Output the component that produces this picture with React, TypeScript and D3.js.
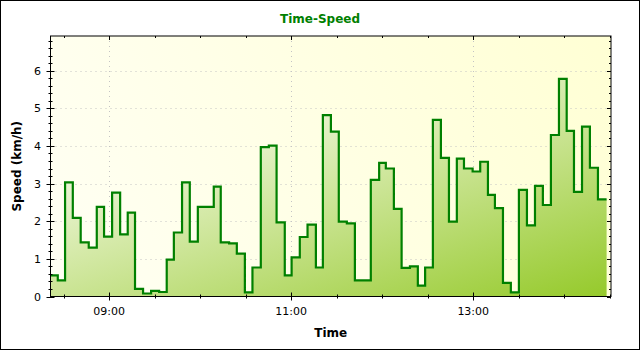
import React from "react";
import * as d3 from "d3";

// Step start times (minutes since midnight) and speeds (km/h)
const times: number[] = [
  501.4, 506.2, 511.0, 516.1, 521.3, 526.6, 531.9, 536.7, 542.0, 547.3,
  552.3, 557.1, 562.4, 567.7, 573.0, 578.0, 582.7, 588.1, 593.2, 598.5,
  609.0, 613.6, 619.1, 624.2, 629.5, 634.5, 640.0, 645.3, 650.4, 655.8,
  660.3, 665.7, 670.8, 676.3, 680.9, 686.2, 691.4, 696.7, 702.0, 712.5,
  718.0, 722.4, 727.7, 732.8, 738.3, 743.5, 748.3, 753.4, 758.7, 764.0,
  769.2, 773.9, 779.6, 784.6, 789.7, 794.3, 799.6, 804.8, 810.1, 815.4,
  820.7, 825.9, 831.2, 836.5, 841.6, 846.4, 851.7, 856.9, 862.2,
];
const speeds: number[] = [
  0.56, 0.43, 3.03, 2.09, 1.44, 1.30, 2.38, 1.59, 2.76, 1.65,
  2.23, 0.20, 0.08, 0.15, 0.12, 0.98, 1.70, 3.03, 1.46, 2.38,
  2.92, 1.44, 1.41, 1.14, 0.11, 0.77, 3.97, 4.01, 1.97, 0.56,
  1.04, 1.58, 1.91, 0.77, 4.82, 4.38, 1.99, 1.94, 0.43, 3.10,
  3.55, 3.40, 2.33, 0.76, 0.80, 0.29, 0.77, 4.69, 3.68, 1.99,
  3.66, 3.40, 3.32, 3.58, 2.70, 2.35, 0.36, 0.11, 2.83, 1.89,
  2.94, 2.43, 4.29, 5.78, 4.40, 2.78, 4.51, 3.42, 2.58,
];
const endTime = 867.9;

const xTickLabels: string[] = ["09:00", "11:00", "13:00"];
const yTickLabels: string[] = ["0", "1", "2", "3", "4", "5", "6"];
const xDomainMinutes: number[] = [501.4, 870.8];
const yDomain: number[] = [0, 6.92];

const title = "Time-Speed";
const xTitle = "Time";
const yTitle = "Speed (km/h)";

const W = 640;
const H = 350;
const L = 50.5;
const R = 611;
const T = 36;
const B = 296.5;

const toDate = (m: number) => new Date(2000, 0, 1, 0, 0, 0, Math.round(m * 60000));
const parseHM = (s: string) => {
  const [h, m] = s.split(":").map(Number);
  return h * 60 + m;
};

const FONT = "'DejaVu Sans', Verdana, sans-serif";

export default function App() {
  const x = d3
    .scaleTime()
    .domain([toDate(xDomainMinutes[0]), toDate(xDomainMinutes[1])])
    .range([L, R]);
  const y = d3.scaleLinear().domain(yDomain).range([B, T]);

  const pts: [Date, number][] = times.map((t, i) => [toDate(t), speeds[i]]);
  pts.push([toDate(endTime), speeds[speeds.length - 1]]);

  const line = d3
    .line<[Date, number]>()
    .x((d) => x(d[0]))
    .y((d) => y(d[1]))
    .curve(d3.curveStepAfter);
  const area = d3
    .area<[Date, number]>()
    .x((d) => x(d[0]))
    .y0(y(0))
    .y1((d) => y(d[1]))
    .curve(d3.curveStepAfter);

  const majorX = xTickLabels.map((s) => toDate(parseHM(s)));
  const minorX = d3.timeMinute
    .every(30)!
    .range(x.domain()[0], new Date(x.domain()[1].getTime() + 1));
  const majorY = yTickLabels.map(Number);
  const minorY = d3.range(0, yDomain[1], 0.2).map((v) => Math.round(v * 10) / 10);

  const fmt = d3.timeFormat("%H:%M");

  return (
    <svg
      width={W}
      height={H}
      style={{ position: "absolute", left: 0, top: 0, background: "#fff" }}
    >
      <defs>
        <linearGradient id="bg" gradientUnits="userSpaceOnUse" x1={L} y1={B} x2={R} y2={T}>
          <stop offset="0" stopColor="#fffff4" />
          <stop offset="1" stopColor="#ffffd4" />
        </linearGradient>
        <linearGradient id="fillG" gradientUnits="userSpaceOnUse" x1={508} y1={-1} x2={605} y2={295}>
          <stop offset="0" stopColor="#f6faea" />
          <stop offset="1" stopColor="#96ca2c" />
        </linearGradient>
        <clipPath id="clip">
          <rect x={L} y={T} width={R - L} height={B - T} />
        </clipPath>
      </defs>

      <rect x={0.5} y={0.5} width={W - 1} height={H - 1} fill="#fff" stroke="#000" />

      <text
        x={W / 2}
        y={23}
        textAnchor="middle"
        fontFamily={FONT}
        fontWeight="bold"
        fontSize={12}
        fill="#008000"
      >
        {title}
      </text>

      <rect x={L} y={T} width={R - L} height={B - T} fill="url(#bg)" />

      {/* gridlines */}
      {majorY.filter((v) => v > 0).map((v) => (
        <line
          key={"gy" + v}
          x1={L}
          x2={R}
          y1={Math.round(y(v)) + 0.5}
          y2={Math.round(y(v)) + 0.5}
          stroke="#c4c4c4"
          strokeDasharray="1,4"
        />
      ))}
      {majorX.map((d, i) => (
        <line
          key={"gx" + i}
          x1={Math.round(x(d)) + 0.5}
          x2={Math.round(x(d)) + 0.5}
          y1={T}
          y2={B}
          stroke="#c4c4c4"
          strokeDasharray="1,4"
        />
      ))}

      <g clipPath="url(#clip)">
        <path d={area(pts) || ""} fill="url(#fillG)" />
        <path d={line(pts) || ""} fill="none" stroke="#008000" strokeWidth={2.2} strokeLinejoin="miter" />
      </g>

      {/* plot outline */}
      <rect x={L} y={T} width={R - L} height={B - T} fill="none" stroke="#000" strokeWidth={1} />

      {/* left & right axis ticks */}
      {minorY.map((v) => {
        const yy = Math.round(y(v)) + 0.5;
        const major = Math.abs(v - Math.round(v)) < 1e-6;
        const len = major ? 4 : 2;
        return (
          <g key={"ty" + v}>
            <line x1={L - len} x2={L + len} y1={yy} y2={yy} stroke="#000" />
            <line x1={R - len} x2={R} y1={yy} y2={yy} stroke="#000" />
          </g>
        );
      })}
      {majorY.map((v, i) => (
        <text
          key={"ly" + v}
          x={41}
          y={y(v) + 4}
          textAnchor="end"
          fontFamily={FONT}
          fontSize={11}
          fill="#000"
        >
          {yTickLabels[i]}
        </text>
      ))}

      {/* bottom & top axis ticks */}
      {minorX.map((d, i) => {
        const xx = Math.round(x(d)) + 0.5;
        const major = majorX.some((m) => m.getTime() === d.getTime());
        const len = major ? 4 : 2;
        return (
          <g key={"tx" + i}>
            <line x1={xx} x2={xx} y1={B - len} y2={B + len} stroke="#000" />
            <line x1={xx} x2={xx} y1={T} y2={T + len} stroke="#000" />
          </g>
        );
      })}
      {majorX.map((d, i) => (
        <text
          key={"lx" + i}
          x={x(d)}
          y={315}
          textAnchor="middle"
          fontFamily={FONT}
          fontSize={11}
          fill="#000"
        >
          {fmt(d)}
        </text>
      ))}

      <text
        x={(L + R) / 2}
        y={337}
        textAnchor="middle"
        fontFamily={FONT}
        fontWeight="bold"
        fontSize={12}
        fill="#000"
      >
        {xTitle}
      </text>
      <text
        transform={`translate(21,${(T + B) / 2}) rotate(-90)`}
        textAnchor="middle"
        fontFamily={FONT}
        fontWeight="bold"
        fontSize={12}
        fill="#000"
      >
        {yTitle}
      </text>
    </svg>
  );
}
